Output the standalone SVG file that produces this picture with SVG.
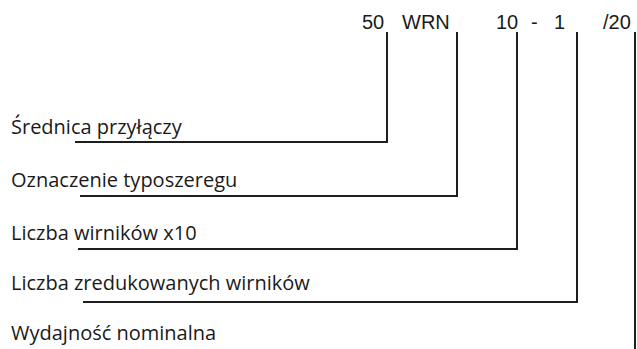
<svg xmlns="http://www.w3.org/2000/svg" width="637" height="349" viewBox="0 0 637 349">
  <style>
    .code { font-family: "Liberation Sans", Arial, sans-serif; font-size: 20px; fill: #1a1a1a; }
    .label { font-family: "Open Sans", "Noto Sans", sans-serif; font-size: 20px; fill: #1a1a1a; }
    .lead { fill: none; stroke: #1e1e1e; stroke-width: 2; stroke-linejoin: miter; }
  </style>
  <rect width="637" height="349" fill="#ffffff"/>

  <!-- type code -->
  <g id="code">
    <text class="code" x="362" y="29">50</text>
    <text class="code" x="402" y="29">WRN</text>
    <text class="code" x="496" y="29">10</text>
    <text class="code" x="531" y="29">-</text>
    <text class="code" x="554" y="29">1</text>
    <text class="code" x="603" y="29">/20</text>
  </g>

  <!-- descriptions -->
  <g id="n-srednica"><text class="label" x="11" y="134">Średnica przyłączy</text></g>
  <g id="n-oznaczenie"><text class="label" x="11" y="187">Oznaczenie typoszeregu</text></g>
  <g id="n-wirniki"><text class="label" x="11" y="240">Liczba wirników x10</text></g>
  <g id="n-zredukowane"><text class="label" x="11" y="290">Liczba zredukowanych wirników</text></g>
  <g id="n-wydajnosc"><text class="label" x="11" y="340">Wydajność nominalna</text></g>

  <!-- leader lines -->
  <g id="connectors">
    <polyline class="lead" points="387,32 387,142 75,142"/>
    <polyline class="lead" points="457,32 457,196 80,196"/>
    <polyline class="lead" points="517,32 517,249 78,249"/>
    <polyline class="lead" points="577,32 577,302 83,302"/>
    <polyline class="lead" points="635,32 635,349"/>
  </g>
</svg>
